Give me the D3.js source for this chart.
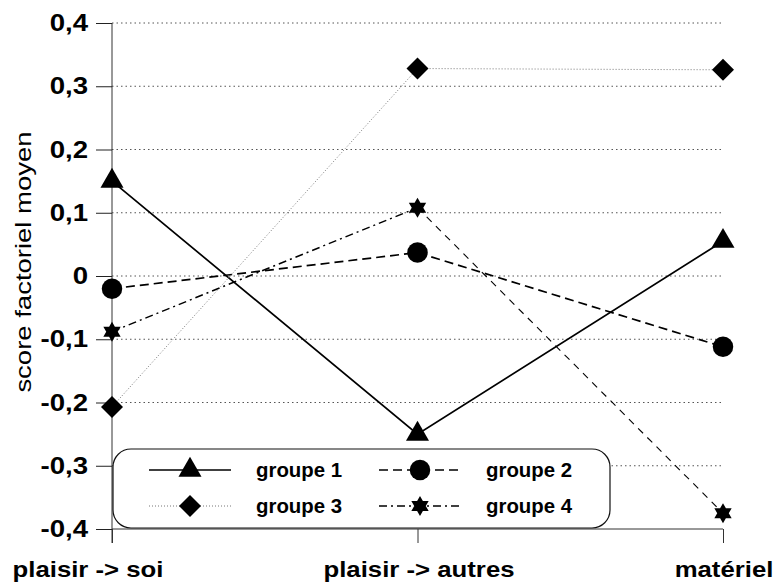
<!DOCTYPE html>
<html><head><meta charset="utf-8">
<script src="https://cdn.jsdelivr.net/npm/d3@7"></script>
<style>body{margin:0;background:#fff}svg{display:block}</style>
</head><body>
<svg id="c" width="775" height="584"></svg>
<script>
const categories = ["plaisir -> soi", "plaisir -> autres", "matériel"];
const groupe1 = [0.15, -0.25, 0.055];
const groupe2 = [-0.02, 0.037, -0.112];
const groupe3 = [-0.207, 0.328, 0.326];
const groupe4 = [-0.088, 0.108, -0.375];
const seriesNames = ["groupe 1", "groupe 2", "groupe 3", "groupe 4"];
const yTicks = [0.4, 0.3, 0.2, 0.1, 0, -0.1, -0.2, -0.3, -0.4];
const yTickLabels = ["0,4", "0,3", "0,2", "0,1", "0", "-0,1", "-0,2", "-0,3", "-0,4"];
const yTitle = "score factoriel moyen";

const svg = d3.select("#c");
const x = d3.scalePoint().domain(categories).range([112, 723]);
const y = d3.scaleLinear().domain([-0.4, 0.4]).range([529, 23]);
const FONT = "Liberation Sans, Arial, sans-serif";

// gridlines
svg.append("g").selectAll("line").data(yTicks.filter(v => v > -0.4)).join("line")
  .attr("x1", 112).attr("x2", 723).attr("y1", d => y(d)).attr("y2", d => y(d))
  .attr("stroke", "#555").attr("stroke-width", 1).attr("stroke-dasharray", "1.5,3");

// y axis
const yAxis = d3.axisLeft(y).tickValues(yTicks).tickSize(16).tickFormat(() => "");
const ya = svg.append("g").attr("transform", "translate(112,0)").call(yAxis);
ya.select(".domain").attr("stroke", "#333").attr("d", `M0,${y(0.4)}V${y(-0.4) + 14}`);
ya.selectAll(".tick line").attr("stroke", "#222");
// x axis
const xAxis = d3.axisBottom(x).tickSize(14).tickFormat(() => "");
const xa = svg.append("g").attr("transform", `translate(0,${y(-0.4)})`).call(xAxis);
xa.select(".domain").attr("stroke", "#333").attr("d", `M112,0H723`);
xa.selectAll(".tick line").attr("stroke", "#333");

// y tick labels
svg.append("g").selectAll("text").data(yTicks).join("text")
  .attr("transform", d => `translate(88,${y(d) + 8}) scale(1.2,1)`)
  .attr("text-anchor", "end").attr("font-family", FONT).attr("font-weight", "bold")
  .attr("font-size", 23).attr("fill", "#000")
  .text((d, i) => yTickLabels[i]);

// category labels
const catX = [88, 419, 724];
svg.append("g").selectAll("text").data(categories).join("text")
  .attr("transform", (d, i) => `translate(${catX[i]},577) scale(1.12,1)`)
  .attr("text-anchor", "middle").attr("font-family", FONT).attr("font-weight", "bold")
  .attr("font-size", 23).attr("fill", "#000").text(d => d);

// y title
svg.append("text").attr("transform", "translate(31,262) rotate(-90) scale(1.25,1)")
  .attr("text-anchor", "middle").attr("font-family", FONT).attr("font-size", 22)
  .attr("fill", "#000").text(yTitle);

// marker shapes
function markerPath(kind) {
  if (kind === "triangle") return d3.symbol(d3.symbolTriangle, 230)();
  if (kind === "circle") return d3.symbol(d3.symbolCircle, 330)();
  if (kind === "diamond") { const r = 11; return `M0,${-r}L${r},0L0,${r}L${-r},0Z`; }
  const r = 10; const pts = a => [r * Math.sin(a), -r * Math.cos(a)];
  const t1 = [0, 2, 4].map(k => pts(k * 2 * Math.PI / 3));
  const t2 = [0, 2, 4].map(k => pts(k * 2 * Math.PI / 3 + Math.PI / 3));
  return "M" + t1.map(p => p.join(",")).join("L") + "Z" + "M" + t2.map(p => p.join(",")).join("L") + "Z";
}

const series = [
  {name: seriesNames[0], values: groupe1, dash: null, width: 1.7, color: "#000", marker: "triangle"},
  {name: seriesNames[1], values: groupe2, dash: "9,5", width: 1.7, color: "#000", marker: "circle"},
  {name: seriesNames[2], values: groupe3, dash: "1,2", width: 1, color: "#777", marker: "diamond"},
  {name: seriesNames[3], values: groupe4, dash: "8,4,2,4", width: 1.5, color: "#000", marker: "star"}
];
const line = d3.line().x((d, i) => x(categories[i])).y(d => y(d));

series.forEach(s => {
  if (s.marker === "star") {
    svg.append("path").datum(s.values.slice(0, 2)).attr("d", line)
      .attr("fill", "none").attr("stroke", s.color).attr("stroke-width", s.width)
      .attr("stroke-dasharray", s.dash);
    svg.append("path")
      .attr("d", d3.line().x(d => x(d[0])).y(d => y(d[1]))([[categories[1], s.values[1]], [categories[2], s.values[2]]]))
      .attr("fill", "none").attr("stroke", s.color).attr("stroke-width", 1.1)
      .attr("stroke-dasharray", "7,6");
  } else {
    svg.append("path").datum(s.values).attr("d", line)
      .attr("fill", "none").attr("stroke", s.color).attr("stroke-width", s.width)
      .attr("stroke-dasharray", s.dash);
  }
});
series.forEach(s => {
  svg.append("g").selectAll("path").data(s.values).join("path")
    .attr("transform", (d, i) => `translate(${x(categories[i])},${y(d)})`)
    .attr("d", markerPath(s.marker)).attr("fill", "#000");
});

// legend
const lg = svg.append("g");
lg.append("rect").attr("x", 113).attr("y", 449).attr("width", 497).attr("height", 79)
  .attr("rx", 18).attr("fill", "#fff").attr("stroke", "#111").attr("stroke-width", 1.2);
const legPos = [[149, 470], [379, 470], [149, 506], [379, 506]];
series.forEach((s, i) => {
  const [lx, ly] = legPos[i];
  lg.append("line").attr("x1", lx).attr("x2", lx + 82).attr("y1", ly).attr("y2", ly)
    .attr("stroke", s.color).attr("stroke-width", s.width).attr("stroke-dasharray", s.dash);
  lg.append("path").attr("transform", `translate(${lx + 41},${ly})`).attr("d", markerPath(s.marker)).attr("fill", "#000");
  lg.append("text").attr("transform", `translate(${lx + 107},${ly + 7}) scale(1.02,1)`)
    .attr("font-family", FONT).attr("font-weight", "bold").attr("font-size", 20).attr("fill", "#000")
    .text(s.name);
});
</script>
</body></html>
